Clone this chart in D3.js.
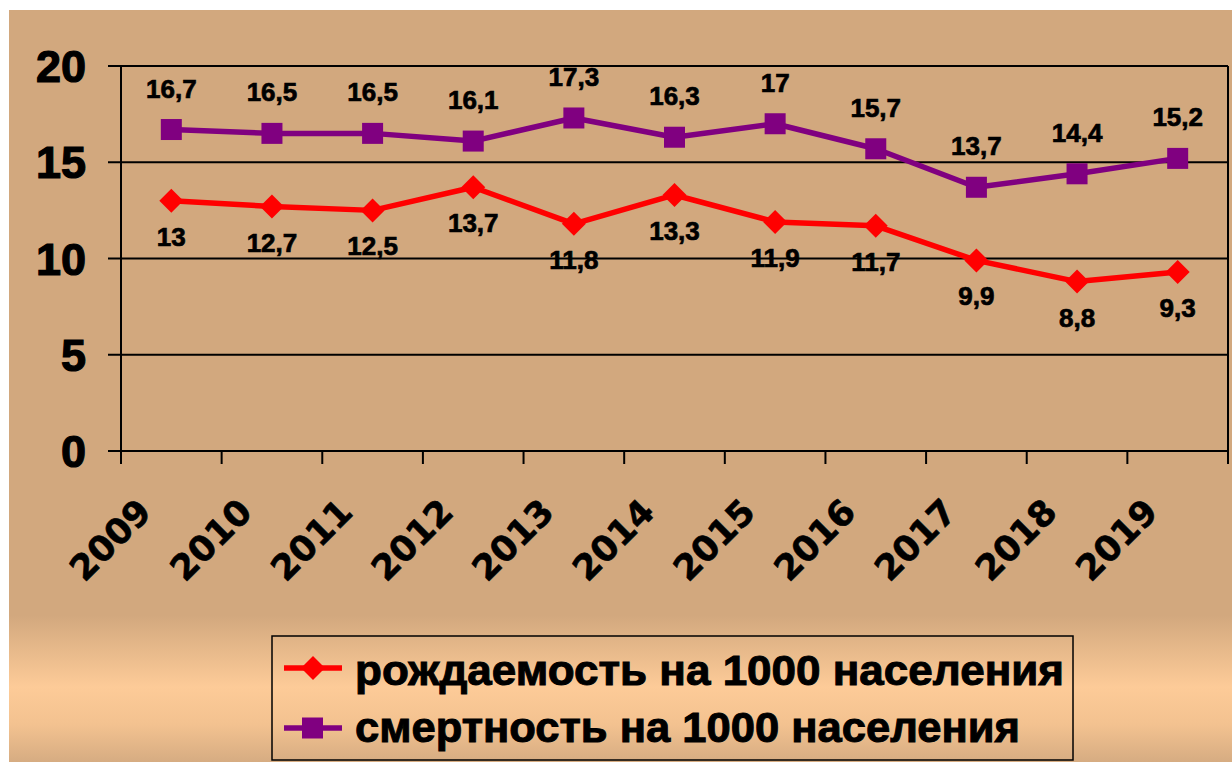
<!DOCTYPE html>
<html>
<head>
<meta charset="utf-8">
<script src="https://cdn.jsdelivr.net/npm/d3@7"></script>
<style>
  html, body { margin: 0; padding: 0; background: #ffffff; }
  svg { display: block; }
</style>
</head>
<body>
<script>
// ---- data ----
const years = ["2009","2010","2011","2012","2013","2014","2015","2016","2017","2018","2019"];
const birthRate = [13, 12.7, 12.5, 13.7, 11.8, 13.3, 11.9, 11.7, 9.9, 8.8, 9.3];
const deathRate = [16.7, 16.5, 16.5, 16.1, 17.3, 16.3, 17, 15.7, 13.7, 14.4, 15.2];
const yTicks = [0, 5, 10, 15, 20];
const seriesNames = ["рождаемость на 1000 населения", "смертность на 1000 населения"];

const W = 1232, H = 762;
const svg = d3.select("body").append("svg").attr("width", W).attr("height", H);

// background
const defs = svg.append("defs");
const grad = defs.append("linearGradient").attr("id", "bg").attr("x1", 0).attr("y1", 0).attr("x2", 0).attr("y2", 1);
[[0, "#D2A87E"], [0.805, "#D2A87E"], [0.9, "#FDCB98"], [0.95, "#F3C290"], [1, "#D6AC82"]]
  .forEach(([o, c]) => grad.append("stop").attr("offset", o).attr("stop-color", c));
svg.append("rect").attr("x", 9).attr("y", 10).attr("width", W - 9).attr("height", H - 10).attr("fill", "url(#bg)");

// scales
const x = d3.scaleBand().domain(years).range([121, 1228]);
const y = d3.scaleLinear().domain([0, 20]).range([451, 66]);
const cx = d => x(d) + x.bandwidth() / 2;

// gridlines + y ticks
svg.append("g").selectAll("line").data(yTicks).join("line")
  .attr("x1", 108).attr("x2", 1228)
  .attr("y1", d => y(d)).attr("y2", d => y(d))
  .attr("stroke", "#000").attr("stroke-width", 2);

// y axis line
svg.append("line").attr("x1", 121).attr("x2", 121).attr("y1", y(20)).attr("y2", 464)
  .attr("stroke", "#000").attr("stroke-width", 2);
// right border
svg.append("line").attr("x1", 1228).attr("x2", 1228).attr("y1", y(20)).attr("y2", 464)
  .attr("stroke", "#000").attr("stroke-width", 2);

// x ticks at band boundaries
svg.append("g").selectAll("line").data(years.slice(1)).join("line")
  .attr("x1", d => x(d)).attr("x2", d => x(d))
  .attr("y1", y(0)).attr("y2", 464)
  .attr("stroke", "#000").attr("stroke-width", 2);

// y labels
svg.append("g").selectAll("text").data(yTicks).join("text")
  .attr("x", 86).attr("y", d => y(d)).attr("dy", "0.36em")
  .attr("text-anchor", "end")
  .attr("font-family", "'Liberation Sans', Arial, sans-serif")
  .attr("font-weight", "bold").attr("font-size", 45)
  .attr("fill", "#000").attr("stroke", "#000").attr("stroke-width", 1.2)
  .text(d => d);

// x labels
svg.append("g").selectAll("text").data(years).join("text")
  .attr("transform", d => `translate(${cx(d) - 18},514) rotate(-45)`)
  .attr("text-anchor", "end")
  .attr("font-family", "'DejaVu Sans', Verdana, sans-serif")
  .attr("font-weight", "bold").attr("font-size", 35)
  .attr("fill", "#000").attr("stroke", "#000").attr("stroke-width", 0.6)
  .text(d => d);

const fmt = v => String(v).replace(".", ",");

// lines
const birthData = years.map((d, i) => ({ year: d, v: birthRate[i] }));
const deathData = years.map((d, i) => ({ year: d, v: deathRate[i] }));
const line = d3.line().x(d => cx(d.year)).y(d => y(d.v));

svg.append("path").datum(birthData).attr("d", line)
  .attr("fill", "none").attr("stroke", "#FF0000").attr("stroke-width", 5.5).attr("stroke-linejoin", "round");
svg.append("path").datum(deathData).attr("d", line)
  .attr("fill", "none").attr("stroke", "#800080").attr("stroke-width", 5.5).attr("stroke-linejoin", "round");

// markers
const diamond = (px, py, r) => `M${px},${py - r}L${px + r},${py}L${px},${py + r}L${px - r},${py}Z`;
svg.append("g").selectAll("path").data(birthData).join("path")
  .attr("d", d => diamond(cx(d.year), y(d.v), 12))
  .attr("fill", "#FF0000");
svg.append("g").selectAll("rect").data(deathData).join("rect")
  .attr("x", d => cx(d.year) - 10.5).attr("y", d => y(d.v) - 10.5)
  .attr("width", 21).attr("height", 21)
  .attr("fill", "#800080");

// data labels
const labelFont = "'Liberation Sans', Arial, sans-serif";
svg.append("g").selectAll("text").data(birthData).join("text")
  .attr("x", d => cx(d.year)).attr("y", d => y(d.v) + 45)
  .attr("text-anchor", "middle")
  .attr("font-family", labelFont).attr("font-weight", "bold").attr("font-size", 26)
  .attr("fill", "#000").attr("stroke", "#000").attr("stroke-width", 0.7)
  .text(d => fmt(d.v));
svg.append("g").selectAll("text").data(deathData).join("text")
  .attr("x", d => cx(d.year)).attr("y", d => y(d.v) - 32)
  .attr("text-anchor", "middle")
  .attr("font-family", labelFont).attr("font-weight", "bold").attr("font-size", 26)
  .attr("fill", "#000").attr("stroke", "#000").attr("stroke-width", 0.7)
  .text(d => fmt(d.v));

// legend
svg.append("rect").attr("x", 272).attr("y", 636).attr("width", 801).attr("height", 124)
  .attr("fill", "none").attr("stroke", "#000").attr("stroke-width", 1.5);

const legendY = [668, 728];
const legendColors = ["#FF0000", "#800080"];
const legendWidths = [709, 665];
const lg = svg.append("g");
seriesNames.forEach((name, i) => {
  lg.append("line").attr("x1", 284).attr("x2", 342).attr("y1", legendY[i]).attr("y2", legendY[i])
    .attr("stroke", legendColors[i]).attr("stroke-width", 5.5);
  if (i === 0) {
    lg.append("path").attr("d", diamond(313, legendY[i], 12)).attr("fill", legendColors[i]);
  } else {
    lg.append("rect").attr("x", 302).attr("y", legendY[i] - 10.5).attr("width", 21).attr("height", 21)
      .attr("fill", legendColors[i]);
  }
  lg.append("text").attr("x", 355).attr("y", [685, 742][i])
    .attr("font-family", "'Liberation Sans', Arial, sans-serif")
    .attr("font-weight", "bold").attr("font-size", 43)
    .attr("textLength", legendWidths[i]).attr("lengthAdjust", "spacingAndGlyphs")
    .attr("fill", "#000").attr("stroke", "#000").attr("stroke-width", 1)
    .text(name);
});
</script>
</body>
</html>
